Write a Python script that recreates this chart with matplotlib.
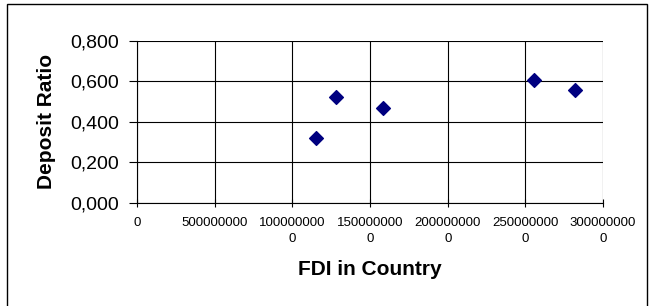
import matplotlib
matplotlib.use("Agg")
import matplotlib.pyplot as plt
from matplotlib.ticker import FuncFormatter, MultipleLocator
from matplotlib.patches import Rectangle

# data
fdi = [1152000000, 1280000000, 1586000000, 2558000000, 2817000000]
deposit_ratio = [0.321, 0.522, 0.469, 0.607, 0.555]

plt.rcParams['font.family'] = ['Liberation Sans', 'DejaVu Sans']

fig = plt.figure(figsize=(6.52, 3.06), dpi=100)
ax = fig.add_axes([0.2104, 0.3376, 0.7146, 0.5294])

ax.scatter(fdi, deposit_ratio, marker='D', s=7**2, color='#000080', zorder=3)

ax.set_xlim(0, 3000000000)
ax.set_ylim(0, 0.8)
ax.xaxis.set_major_locator(MultipleLocator(500000000))
ax.yaxis.set_major_locator(MultipleLocator(0.2))


def xfmt(v, pos):
    s = str(int(round(v)))
    if len(s) > 9:
        s = s[:9] + "\n" + s[9:]
    return s


def yfmt(v, pos):
    return f"{v:.3f}".replace('.', ',')


ax.xaxis.set_major_formatter(FuncFormatter(xfmt))
ax.yaxis.set_major_formatter(FuncFormatter(yfmt))

ax.tick_params(axis='x', labelsize=9.5, direction='inout', length=6, width=0.8, pad=7)
ax.tick_params(axis='y', labelsize=14, direction='out', length=6, width=0.8, pad=7)
for lab in ax.get_xticklabels():
    lab.set_linespacing(1.45)

ax.grid(True, color='black', linewidth=0.8)
ax.set_axisbelow(True)
for side in ['top', 'right']:
    ax.spines[side].set_visible(False)
ax.spines['left'].set_linewidth(0.8)
ax.spines['bottom'].set_linewidth(0.8)

ax.set_xlabel('FDI in Country', fontsize=15, fontweight='bold', labelpad=11)
ax.set_ylabel('Deposit Ratio', fontsize=15, fontweight='bold', labelpad=10)

# outer chart border
fig.patches.append(Rectangle((0.011, -0.05), 0.981, 1.037, transform=fig.transFigure,
                             fill=False, edgecolor='black', linewidth=1))

plt.savefig('out.png', dpi=100)
